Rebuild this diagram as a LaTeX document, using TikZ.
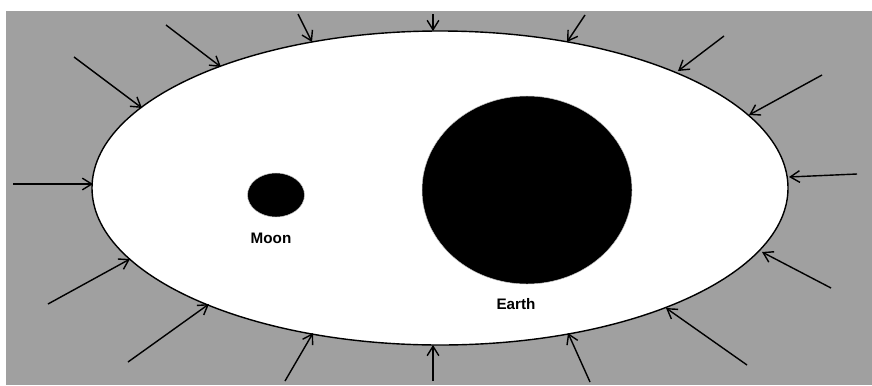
\documentclass[tikz,border=0pt]{standalone}
\usepackage{fontspec}
\setmainfont{Liberation Sans}
\usetikzlibrary{arrows.meta,shapes.geometric}

\begin{document}
\begin{tikzpicture}[x=0.03cm,y=-0.03cm, font=\bfseries\fontsize{13}{15}\selectfont]

    % Farben
    \definecolor{spacegray}{RGB}{160,160,160}

    % Stile
    \tikzset{
        pin/.style={line width=1.2pt, -{Straight Barb[length=8pt,width=10pt]}},
        body/.style={ellipse, fill=black, draw=gray!40, line width=0.4pt, inner sep=0pt},
    }

    % Rahmen
    \useasboundingbox (0,0) rectangle (872,385);
    \fill[spacegray] (6,11) rectangle (872,385);

    % Feld um Erde und Mond
    \draw[fill=white, line width=1.2pt] (440,188) ellipse [x radius=348, y radius=157];

    % Mond
    \node[body, minimum width=1.71cm, minimum height=1.32cm] (moon) at (276,195) {};
    \node (moonlabel) at (271,238) {Moon};

    % Erde
    \node[body, minimum width=6.3cm, minimum height=5.64cm] (earth) at (527,190) {};
    \node (earthlabel) at (516,304) {Earth};

    % Pfeile von aussen auf das Feld
    \foreach \sx/\sy/\ex/\ey [count=\i] in {
        298/14/312/42, 433/14/433/31, 585/15/567/42,
        166/25/221/67, 74/57/142/108,
        724/36/678/71, 822/75/749/115,
        13/184/93/184, 857/174/789/177,
        48/304/130/259, 128/362/209/304,
        285/381/313/333, 433/381/433/345, 590/382/568/333,
        747/365/666/308, 831/288/762/252}
    {
        \coordinate (s\i) at (\sx,\sy);
        \coordinate (e\i) at (\ex,\ey);
        \draw[pin] (s\i) -- (e\i);
    }

\end{tikzpicture}
\end{document}
